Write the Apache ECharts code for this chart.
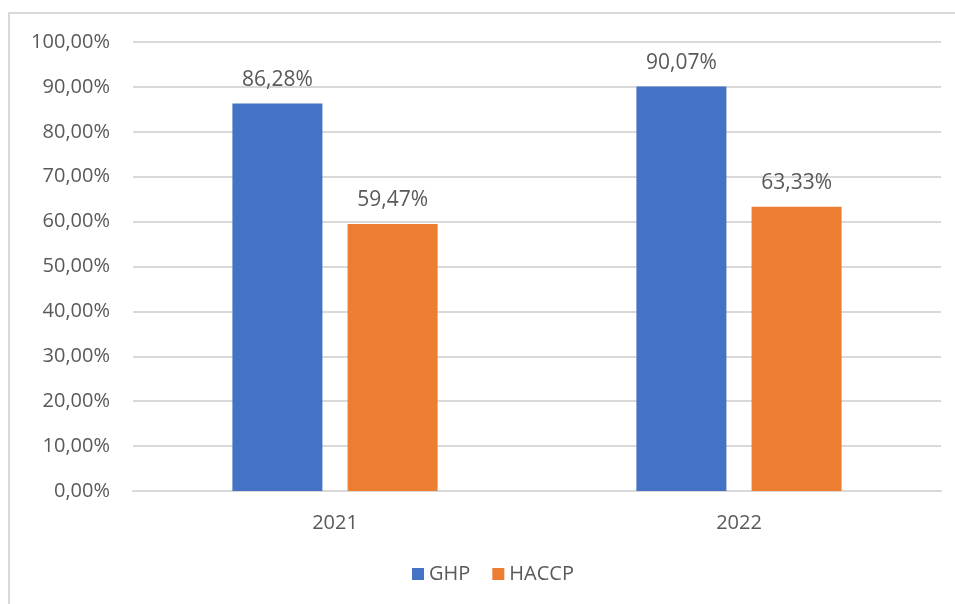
<!DOCTYPE html>
<html>
<head>
<meta charset="utf-8">
<script src="https://cdn.jsdelivr.net/npm/echarts@6/dist/echarts.min.js"></script>
<style>
  html, body { margin: 0; padding: 0; background: #fff; }
  #chart { width: 955px; height: 604px; }
</style>
</head>
<body>
<div id="chart"></div>
<script>
// dane z wykresu
var years = ['2021', '2022'];
var ghp = [86.28, 90.07];
var haccp = [59.47, 63.33];
var yTicks = [0, 10, 20, 30, 40, 50, 60, 70, 80, 90, 100];

function pct(v) {
  return v.toFixed(2).replace('.', ',') + '%';
}

var font = '"Open Sans", "Noto Sans", sans-serif';
var myChart = echarts.init(document.getElementById('chart'));

var option = {
  backgroundColor: '#fff',
  textStyle: { fontFamily: font },
  graphic: [{
    type: 'rect',
    shape: { x: 9, y: 13, width: 980, height: 640 },
    style: { fill: 'none', stroke: '#d9d9d9', lineWidth: 2 },
    silent: true
  }],
  grid: { left: 133, right: 14, top: 42, bottom: 113 },
  legend: {
    data: ['GHP', 'HACCP'],
    bottom: 15,
    left: 407,
    itemWidth: 12,
    itemHeight: 12,
    itemGap: 22,
    itemStyle: { borderWidth: 0 },
    icon: 'rect',
    textStyle: { color: '#595959', fontSize: 20, fontFamily: font }
  },
  xAxis: {
    type: 'category',
    data: years,
    axisLine: { lineStyle: { color: '#d9d9d9', width: 2 } },
    axisTick: { show: false },
    axisLabel: { color: '#595959', fontSize: 20, margin: 22 }
  },
  yAxis: {
    type: 'value',
    min: yTicks[0],
    max: yTicks[yTicks.length - 1],
    interval: 10,
    axisLine: { show: false },
    axisTick: { show: false },
    splitLine: { lineStyle: { color: '#d9d9d9', width: 2 } },
    axisLabel: {
      color: '#595959',
      fontSize: 20,
      margin: 23,
      formatter: function (v) { return pct(v); }
    }
  },
  series: [
    {
      name: 'GHP',
      type: 'bar',
      data: ghp,
      barWidth: 90,
      barGap: '28%',
      itemStyle: { color: '#4472c4' },
      label: {
        show: true,
        position: 'top',
        distance: 13,
        color: '#595959',
        fontSize: 21,
        formatter: function (p) { return pct(p.value); }
      }
    },
    {
      name: 'HACCP',
      type: 'bar',
      data: haccp,
      barWidth: 90,
      itemStyle: { color: '#ed7d31' },
      label: {
        show: true,
        position: 'top',
        distance: 13,
        color: '#595959',
        fontSize: 21,
        formatter: function (p) { return pct(p.value); }
      }
    }
  ]
};

myChart.setOption(option);
window.addEventListener('resize', myChart.resize);
</script>
</body>
</html>
